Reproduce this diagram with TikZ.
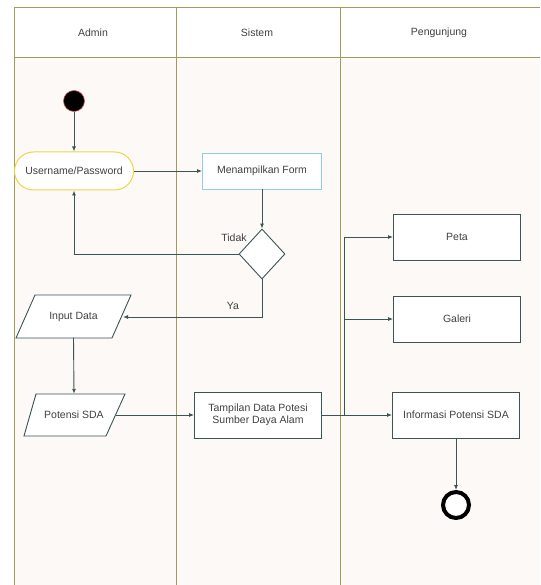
\documentclass[tikz,border=0pt]{standalone}
\usepackage{fontspec}
\setmainfont{Liberation Sans}
\usetikzlibrary{arrows.meta,shapes.geometric}
\definecolor{lane}{HTML}{A39B5C}
\definecolor{bodybg}{HTML}{FCF9F6}
\definecolor{ln}{HTML}{3C5456}
\definecolor{txt}{HTML}{404040}
\definecolor{yel}{HTML}{F2D34A}
\definecolor{teal}{HTML}{8FCFD6}
\tikzset{
  every node/.style={font=\fontsize{10.5}{12}\selectfont, text=txt},
  act/.style={draw=ln, line width=0.9pt, fill=white, minimum width=127pt, minimum height=46pt, inner sep=1pt, align=center},
  parabox/.style={minimum height=42pt, inner sep=0pt},
  plshape/.style={draw=ln, line width=0.9pt, fill=white},
  conn/.style={draw=ln, line width=0.9pt, -{Latex[length=5pt,width=4pt]}},
  plain/.style={draw=ln, line width=0.9pt},
}
\begin{document}
\begin{tikzpicture}[x=1pt,y=-1pt]
\useasboundingbox (0,0) rectangle (540,585);
\fill[white] (0,0) rectangle (540,585);
\fill[bodybg] (14,58) rectangle (540,585);
\draw[lane, line width=1pt] (540,8) -- (14,8) -- (14,585);
\draw[lane, line width=1pt] (176,8) -- (176,585);
\draw[lane, line width=1pt] (340,8) -- (340,585);
\draw[lane, line width=1pt] (14,58) -- (540,58);
\node (hA) at (93,33) {Admin};
\node (hS) at (257,33) {Sistem};
\node (hP) at (439,33) {Pengunjung};

\node[circle, fill=black, draw={rgb,255:red,200;green,90;blue,80}, line width=0.6pt, minimum size=21pt, inner sep=0pt] (start) at (74,101) {};
\node[rounded corners=19pt, draw=yel, line width=1pt, fill=white, minimum width=119pt, minimum height=38pt, inner sep=1pt] (user) at (74,171) {Username/Password};
\node[draw=teal, line width=0.9pt, fill=white, minimum width=119pt, minimum height=36pt, inner sep=1pt] (form) at (262,171) {Menampilkan Form};
\node[diamond, draw=ln, line width=0.9pt, fill=white, minimum width=46pt, minimum height=50pt, inner sep=0pt] (dec) at (262,254) {};

% parallelograms
\draw[plshape] (35,295) -- (131,295) -- (112,338) -- (16,338) -- cycle;
\node[parabox, minimum width=96pt] (input) at (73.5,316.5) {Input Data};
\draw[plshape] (36,394) -- (125,394) -- (106,436) -- (24,436) -- cycle;
\node[parabox, minimum width=84pt] (pot) at (74,415) {Potensi SDA};

\node[act] (tamp) at (258,415) {Tampilan Data Potesi\\Sumber Daya Alam};
\node[act] (peta) at (457,237) {Peta};
\node[act] (gal) at (457,319) {Galeri};
\node[act] (info) at (456,415) {Informasi Potensi SDA};
\node[circle, draw=black, line width=4pt, fill=white, minimum size=26pt, inner sep=0pt] (end) at (456,505) {};

\node (tidak) at (234,238) {Tidak};
\node (ya) at (233,306) {Ya};

\draw[conn] (start) -- (user);
\draw[conn] (user) -- (form);
\draw[conn] (form) -- (dec);
\draw[conn] (dec.west) -| (user.south);
\coordinate (inR) at (123,317);
\draw[conn] (dec.south) |- (inR);
\draw[conn] (input.south) -- (pot.north);
\coordinate (potR) at (116,415);
\draw[conn] (potR) -- (tamp.west);
\coordinate (br) at (344,415);
\draw[plain] (tamp.east) -- (br);
\draw[conn] (br) -- (info.west);
\draw[conn] (br) |- (peta.west);
\coordinate (gb) at (344,319);
\draw[conn] (gb) -- (gal.west);
\draw[conn] (info) -- (end);
\end{tikzpicture}
\end{document}
